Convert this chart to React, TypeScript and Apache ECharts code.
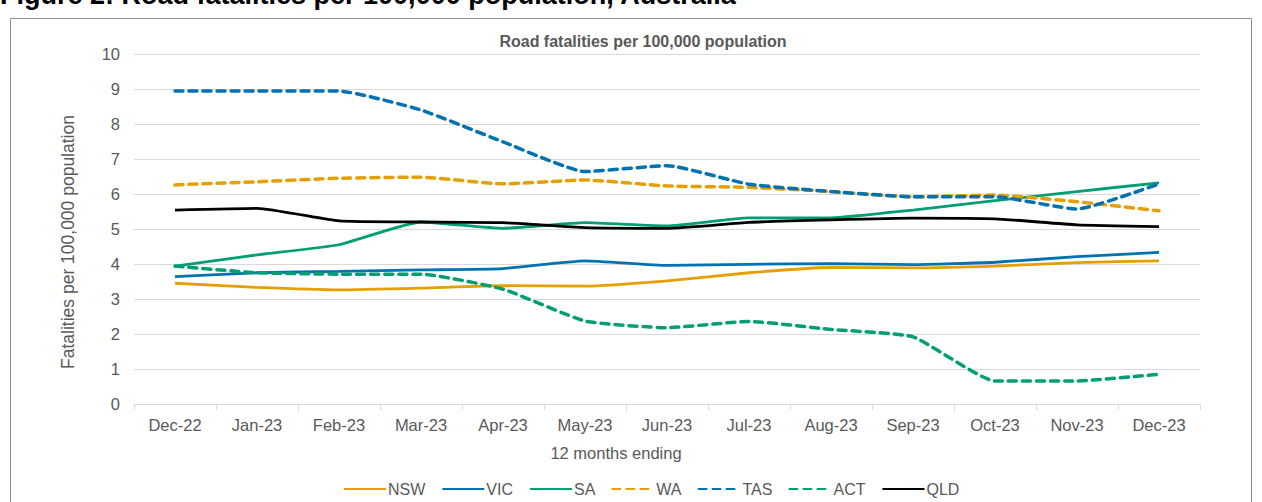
import React, { useEffect, useRef } from "react";
import * as echarts from "echarts";

const categories = ["Dec-22", "Jan-23", "Feb-23", "Mar-23", "Apr-23", "May-23", "Jun-23", "Jul-23", "Aug-23", "Sep-23", "Oct-23", "Nov-23", "Dec-23"];
const nsw = [3.45, 3.33, 3.26, 3.31, 3.38, 3.37, 3.52, 3.75, 3.9, 3.89, 3.94, 4.04, 4.09];
const vic = [3.64, 3.75, 3.79, 3.83, 3.87, 4.09, 3.96, 3.99, 4.01, 3.98, 4.05, 4.21, 4.33];
const sa = [3.94, 4.26, 4.55, 5.2, 5.02, 5.18, 5.09, 5.32, 5.32, 5.54, 5.81, 6.07, 6.32];
const wa = [6.26, 6.35, 6.45, 6.48, 6.29, 6.4, 6.23, 6.19, 6.07, 5.92, 5.97, 5.78, 5.52];
const tas = [8.94, 8.94, 8.94, 8.4, 7.49, 6.64, 6.81, 6.28, 6.07, 5.92, 5.92, 5.57, 6.29];
const act = [3.94, 3.75, 3.71, 3.71, 3.28, 2.37, 2.18, 2.36, 2.13, 1.92, 0.66, 0.66, 0.85];
const qld = [5.54, 5.59, 5.23, 5.2, 5.18, 5.04, 5.02, 5.19, 5.26, 5.31, 5.29, 5.12, 5.07];
const yTicks = [0, 10, 1];

const ORANGE = "#E69F00";
const BLUE = "#0072B2";
const GREEN = "#009E73";
const BLACK = "#000000";
const TXT = "#595959";
const FONT = "'Liberation Sans', Arial, sans-serif";

export default function App() {
  const ref = useRef<HTMLDivElement>(null);
  useEffect(() => {
    const chart = echarts.init(ref.current!, null, { renderer: "svg" });
    const mk = (name: string, data: number[], color: string, dashed: boolean) => ({
      name,
      type: "line",
      data,
      symbol: "none",
      smooth: 0.15,
      lineStyle: {
        color,
        width: dashed ? 3.5 : 2.8,
        type: dashed ? [8, 6] : "solid",
        cap: dashed ? "round" : "butt",
      },
      itemStyle: { color },
      emphasis: { disabled: true },
    });
    chart.setOption({
      animation: false,
      backgroundColor: "#ffffff",
      textStyle: { fontFamily: FONT },
      graphic: [
        {
          type: "text",
          x: 0,
          y: -5,
          style: {
            text: "Figure 2: Road fatalities per 100,000 population, Australia",
            font: "bold 27px 'Liberation Sans', Arial, sans-serif",
            fill: "#000",
            verticalAlign: "middle",
          },
        },
        {
          type: "rect",
          shape: { x: 10.5, y: 18.5, width: 1241, height: 500 },
          style: { fill: "none", stroke: "#8c8c8c", lineWidth: 1 },
          z: -1,
        },
        {
          type: "text",
          x: 643,
          y: 41,
          style: {
            text: "Road fatalities per 100,000 population",
            font: "bold 16px 'Liberation Sans', Arial, sans-serif",
            fill: TXT,
            align: "center",
            verticalAlign: "middle",
          },
        },
        {
          type: "text",
          x: 616,
          y: 453,
          style: {
            text: "12 months ending",
            font: "16.5px 'Liberation Sans', Arial, sans-serif",
            fill: TXT,
            align: "center",
            verticalAlign: "middle",
          },
        },
        {
          type: "text",
          x: 68,
          y: 242,
          rotation: Math.PI / 2,
          style: {
            text: "Fatalities per 100,000 population",
            font: "17.5px 'Liberation Sans', Arial, sans-serif",
            fill: TXT,
            align: "center",
            verticalAlign: "middle",
          },
        },
      ],
      grid: { left: 134, right: 62, top: 54, bottom: 98, containLabel: false },
      xAxis: {
        type: "category",
        data: categories,
        boundaryGap: true,
        axisLine: { lineStyle: { color: "#d9d9d9", width: 1 } },
        axisTick: { show: true, length: 6, lineStyle: { color: "#d9d9d9" } },
        axisLabel: { color: TXT, fontSize: 16.5, margin: 12, fontFamily: FONT },
      },
      yAxis: {
        type: "value",
        min: yTicks[0],
        max: yTicks[1],
        interval: yTicks[2],
        axisLine: { show: false },
        axisTick: { show: false },
        axisLabel: { color: TXT, fontSize: 16.5, margin: 14, fontFamily: FONT },
        splitLine: { lineStyle: { color: "#d9d9d9", width: 1 } },
      },
      legend: {
        left: 338,
        top: 476,
        itemWidth: 42,
        itemHeight: 14,
        itemGap: 16,
        itemStyle: { opacity: 0 },
        textStyle: { color: TXT, fontSize: 16, fontFamily: FONT, padding: [0, 0, 0, -3] },
        data: ["NSW", "VIC", "SA", "WA", "TAS", "ACT", "QLD"],
      },
      series: [
        mk("NSW", nsw, ORANGE, false),
        mk("VIC", vic, BLUE, false),
        mk("SA", sa, GREEN, false),
        mk("WA", wa, ORANGE, true),
        mk("TAS", tas, BLUE, true),
        mk("ACT", act, GREEN, true),
        mk("QLD", qld, BLACK, false),
      ],
    });
    return () => chart.dispose();
  }, []);
  return (
    <div
      ref={ref}
      style={{ position: "absolute", left: 0, top: 0, width: 1262, height: 502 }}
    />
  );
}
